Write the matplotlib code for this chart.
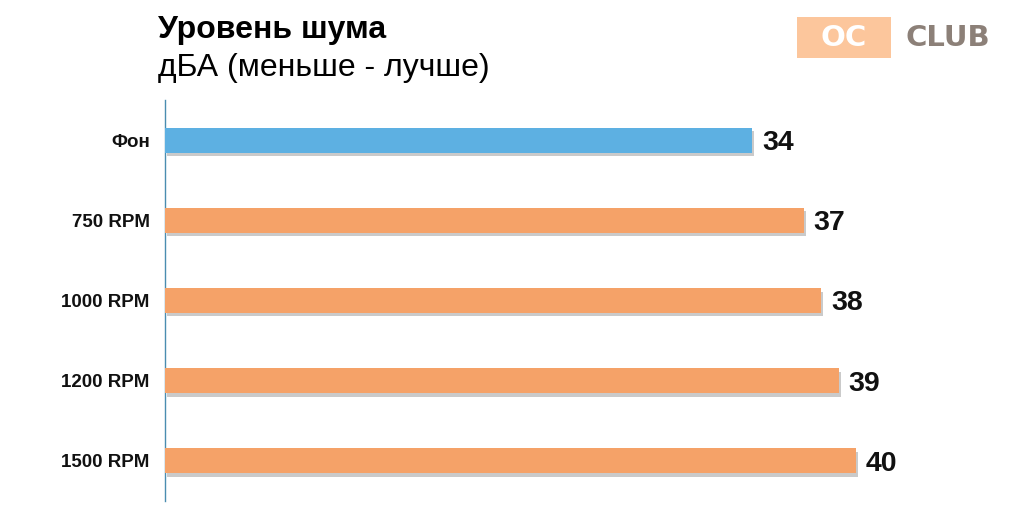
import matplotlib
matplotlib.use("Agg")
import matplotlib.pyplot as plt
from matplotlib.patches import Rectangle
import matplotlib.patheffects as pe

categories = ["Фон", "750 RPM", "1000 RPM", "1200 RPM", "1500 RPM"]
values = [34, 37, 38, 39, 40]
colors = ["#5DB0E2", "#F5A268", "#F5A268", "#F5A268", "#F5A268"]

title = "Уровень шума"
subtitle = "дБА (меньше - лучше)"

plt.rcParams['font.family'] = ['Liberation Sans', 'DejaVu Sans']

W, H = 1023, 526
fig = plt.figure(figsize=(W / 100, H / 100), dpi=100)
fig.patch.set_facecolor("white")

left, right = 165, 994
top, bottom = 100, 501
ax = fig.add_axes([left / W, 1 - bottom / H, (right - left) / W, (bottom - top) / H])

y = list(range(len(categories)))
bars = ax.barh(y, values, height=0.31, color=colors, zorder=3)
for b in bars:
    b.set_path_effects([pe.SimplePatchShadow(offset=(1.5, -2.5), shadow_rgbFace="#8a8a8a", alpha=0.45), pe.Normal()])

for yi, v in zip(y, values):
    ax.annotate(str(v), xy=(v, yi), xytext=(7, 0), textcoords="offset points",
                ha="left", va="center_baseline", fontsize=20.5, fontweight="bold", color="#111111")

ax.set_xlim(0, 48)
ax.set_ylim(len(categories) - 0.5, -0.5)
ax.set_yticks(y)
ax.set_yticklabels(categories, fontsize=13.5, fontweight="bold", color="#111111")
ax.tick_params(axis="y", length=0, pad=11)
ax.set_xticks([])
for s in ["top", "right", "bottom"]:
    ax.spines[s].set_visible(False)
ax.spines["left"].set_color("#4A8DB0")
ax.spines["left"].set_linewidth(1.0)

fig.text(158 / W, 1 - 30 / H, title, fontsize=23, fontweight="bold", va="center", ha="left", color="#000000")
fig.text(158 / W, 1 - 68 / H, subtitle, fontsize=23, va="center", ha="left", color="#000000")

# logo
fig.patches.append(Rectangle((797 / W, 1 - 58 / H), 94 / W, 41 / H, transform=fig.transFigure,
                             facecolor="#FCC69C", edgecolor="none"))
fig.text(844 / W, 1 - 38 / H, "OC", fontsize=21, fontweight="bold", color="white",
         ha="center", va="center", family="DejaVu Sans")
fig.text(948 / W, 1 - 38 / H, "CLUB", fontsize=21, fontweight="bold", color="#8C8078",
         ha="center", va="center", family="DejaVu Sans")

fig.savefig("out.png", dpi=100, facecolor="white")
